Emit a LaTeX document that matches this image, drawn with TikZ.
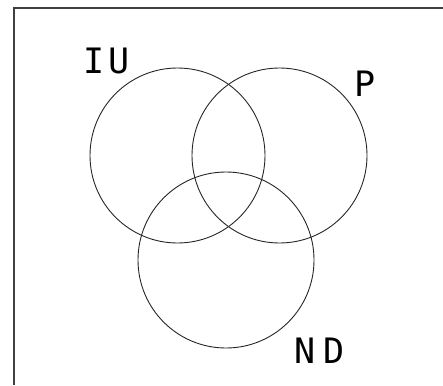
\documentclass[tikz,border=0pt]{standalone}
\usepackage{fontspec}
\newfontfamily\lbl{DejaVu Sans Mono}
\begin{document}
\begin{tikzpicture}[x=1pt,y=-1pt,
  set/.style={draw=black!85,line width=0.9pt},
  frameline/.style={draw=black!75,line width=1.8pt},
  lab/.style={font=\lbl\fontsize{35}{35}\selectfont,inner sep=0pt,anchor=center}]
\useasboundingbox (0,0) rectangle (443,385);
\coordinate (tr) at (443,8);
\coordinate (tl) at (14,8);
\coordinate (bl) at (14,385);
\draw[frameline] (tr) -- (tl) -- (bl);
\node[set,circle,minimum size=175pt,inner sep=0pt] (iu) at (177.5,155.5) {};
\node[set,circle,minimum size=175pt,inner sep=0pt] (p) at (279.5,155.5) {};
\node[set,circle,minimum size=176pt,inner sep=0pt] (nd) at (226,260) {};
\node[lab] (liu) at (106.5,61) {I\hspace{4pt}U};
\node[lab] (lp) at (365,84) {P};
\node[lab] (lnd) at (319.5,351) {N\hspace{7pt}D};
\end{tikzpicture}
\end{document}
